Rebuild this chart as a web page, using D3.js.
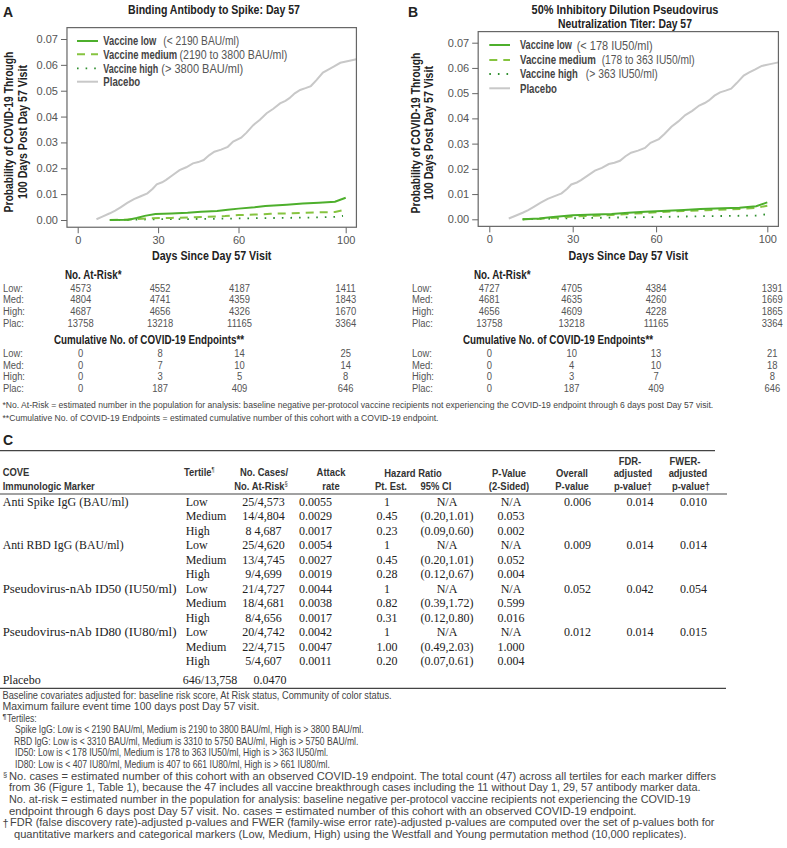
<!DOCTYPE html>
<html><head><meta charset="utf-8">
<script src="https://cdn.jsdelivr.net/npm/d3@7"></script>
<style>
body{margin:0;background:#fff;}
svg{display:block;}
</style></head><body>
<svg id="fig" width="787" height="848"></svg>
<script>
// ---------------- DATA ----------------
const xTicks = [0, 30, 60, 100];
const yTicks = [0, 0.01, 0.02, 0.03, 0.04, 0.05, 0.06, 0.07];

// Placebo cumulative incidence (same in both panels)
const placeboDays = [7, 9, 12, 14, 16, 18.5, 21, 23.5, 26, 28, 29.5, 31.5, 33, 35.5, 38, 40.5, 43, 45, 47, 49, 51, 53.5, 56, 58, 61, 63, 65.5, 68, 70.5, 73, 75.5, 77.5, 79, 81, 83, 85, 87, 89, 91.5, 93.5, 95.5, 98, 101, 104];
const placeboProb = [0.0003, 0.0012, 0.0026, 0.0036, 0.0049, 0.0066, 0.0081, 0.0092, 0.0103, 0.0121, 0.0138, 0.0146, 0.0155, 0.0174, 0.0193, 0.0204, 0.0219, 0.0224, 0.0232, 0.0250, 0.0264, 0.0272, 0.0283, 0.0303, 0.0318, 0.0338, 0.0367, 0.0388, 0.0413, 0.0430, 0.0451, 0.0461, 0.0471, 0.0490, 0.0503, 0.0510, 0.0518, 0.0540, 0.0570, 0.0582, 0.0593, 0.0608, 0.0615, 0.0622];

// Panel A: Binding antibody to spike
const spikeLowDays = [12, 19, 22, 25, 29, 35, 41, 46, 52, 56, 60, 66, 70, 78, 84, 90, 96, 100];
const spikeLowProb = [0, 0.0001, 0.0008, 0.0016, 0.0023, 0.0025, 0.0028, 0.0032, 0.0035, 0.0040, 0.0044, 0.0049, 0.0054, 0.0059, 0.0064, 0.0067, 0.0071, 0.0086];
const spikeMedDays = [12, 17, 22, 28, 35, 42, 48, 55, 60, 66, 72, 80, 88, 96, 100];
const spikeMedProb = [0, 0.0001, 0.0004, 0.0007, 0.0008, 0.0010, 0.0012, 0.0015, 0.0019, 0.0021, 0.0024, 0.0026, 0.0029, 0.0031, 0.0040];
const spikeHighDays = [12, 20, 30, 45, 60, 75, 90, 96, 99];
const spikeHighProb = [0, 0.0001, 0.0003, 0.0004, 0.0006, 0.0008, 0.0010, 0.0012, 0.0016];

// Panel B: ID50 neutralization titer
const id50LowDays = [12, 18, 22, 26, 30, 38, 44, 50, 56, 62, 70, 76, 84, 90, 96, 100];
const id50LowProb = [0, 0.0003, 0.0008, 0.0012, 0.0016, 0.0019, 0.0021, 0.0026, 0.0030, 0.0033, 0.0037, 0.0041, 0.0044, 0.0046, 0.0052, 0.0067];
const id50MedDays = [12, 18, 24, 30, 38, 44, 50, 56, 62, 70, 78, 86, 92, 96, 100];
const id50MedProb = [0, 0.0002, 0.0006, 0.0011, 0.0014, 0.0017, 0.0021, 0.0025, 0.0029, 0.0033, 0.0036, 0.0039, 0.0042, 0.0045, 0.0054];
const id50HighDays = [12, 20, 30, 45, 60, 75, 90, 96, 100];
const id50HighProb = [0, 0.0002, 0.0004, 0.0007, 0.0009, 0.0012, 0.0014, 0.0015, 0.0020];

const legendNames = ["Vaccine low", "Vaccine medium", "Vaccine high", "Placebo"];
const legendRangesA = ["(< 2190 BAU/ml)", "(2190 to 3800 BAU/ml)", "(> 3800 BAU/ml)"];
const legendRangesB = ["(< 178 IU50/ml)", "(178 to 363 IU50/ml)", "(> 363 IU50/ml)"];

const riskRows = ["Low:", "Med:", "High:", "Plac:"];
const atRiskA = [[4573, 4552, 4187, 1411], [4804, 4741, 4359, 1843], [4687, 4656, 4326, 1670], [13758, 13218, 11165, 3364]];
const eventsA = [[0, 8, 14, 25], [0, 7, 10, 14], [0, 3, 5, 8], [0, 187, 409, 646]];
const atRiskB = [[4727, 4705, 4384, 1391], [4681, 4635, 4260, 1669], [4656, 4609, 4228, 1865], [13758, 13218, 11165, 3364]];
const eventsB = [[0, 10, 13, 21], [0, 4, 10, 18], [0, 3, 7, 8], [0, 187, 409, 646]];

// Panel C table
const markers = ["Anti Spike IgG (BAU/ml)", "Anti RBD IgG (BAU/ml)", "Pseudovirus-nAb ID50 (IU50/ml)", "Pseudovirus-nAb ID80 (IU80/ml)"];
const tertiles = ["Low", "Medium", "High"];
const casesAtRisk = ["25/4,573", "14/4,804", "8 4,687", "25/4,620", "13/4,745", "9/4,699", "21/4,727", "18/4,681", "8/4,656", "20/4,742", "22/4,715", "5/4,607"];
const attackRate = ["0.0055", "0.0029", "0.0017", "0.0054", "0.0027", "0.0019", "0.0044", "0.0038", "0.0017", "0.0042", "0.0047", "0.0011"];
const hrEst = ["1", "0.45", "0.23", "1", "0.45", "0.28", "1", "0.82", "0.31", "1", "1.00", "0.20"];
const hrCI = ["N/A", "(0.20,1.01)", "(0.09,0.60)", "N/A", "(0.20,1.01)", "(0.12,0.67)", "N/A", "(0.39,1.72)", "(0.12,0.80)", "N/A", "(0.49,2.03)", "(0.07,0.61)"];
const pValue = ["N/A", "0.053", "0.002", "N/A", "0.052", "0.004", "N/A", "0.599", "0.016", "N/A", "1.000", "0.004"];
const overallP = ["0.006", "0.009", "0.052", "0.012"];
const fdrP = ["0.014", "0.014", "0.042", "0.014"];
const fwerP = ["0.010", "0.014", "0.054", "0.015"];
const placeboRow = ["Placebo", "646/13,758", "0.0470"];

// ---------------- DRAWING ----------------
const SANS = '"Liberation Sans",Arial,sans-serif';
const SERIF = '"Liberation Serif","Times New Roman",serif';
const NARROW = 0.82; // simulate the condensed face of the original

const svg = d3.select("#fig");
svg.append("rect").attr("width", 787).attr("height", 848).attr("fill", "#fff");

// text helper: condensed horizontally by a transform (fits `width` when given)
function txt(g, s, x, y, o = {}) {
  const t = g.append("text").attr("x", 0).attr("y", 0).text(s)
    .attr("font-family", o.family || SANS).attr("font-size", o.size || 11)
    .attr("fill", o.fill || "#333").attr("dominant-baseline", "central");
  if (o.weight) t.attr("font-weight", o.weight);
  if (o.anchor) t.attr("text-anchor", o.anchor);
  let k = 1;
  if (o.width) {
    k = o.width / t.node().getComputedTextLength();
  } else if (!o.family && o.condense !== false) {
    k = NARROW;
  }
  t.attr("transform", `translate(${x},${y})` + (o.rotate ? " rotate(-90)" : "") + (k !== 1 ? ` scale(${k.toFixed(4)},1)` : ""));
  return t;
}

const styles = [
  { color: "#4daf2c", width: 2, dash: null },
  { color: "#86c440", width: 2, dash: "8,6" },
  { color: "#2f8f2f", width: 1.8, dash: "1.6,7" },
  { color: "#c8c8c8", width: 2, dash: null }
];

function drawPanel(p) {
  const x = d3.scaleLinear().domain([0, 100]).range([p.x0, p.x100]);
  const y = d3.scaleLinear().domain([0, 0.07]).range([p.y0, p.y07]);
  const L = x(-4), R = x(104), T = y(0.0744), B = y(-0.0028);
  const g = svg.append("g");

  const cid = "clip" + p.id;
  svg.append("clipPath").attr("id", cid).append("rect")
    .attr("x", L).attr("y", T).attr("width", R - L).attr("height", B - T);

  const ya = g.append("g").attr("transform", `translate(${L},0)`)
    .call(d3.axisLeft(y).tickValues(yTicks).tickFormat(d3.format(".2f")).tickSize(6).tickPadding(3));
  ya.select(".domain").remove();
  ya.selectAll("line").attr("stroke", "#666");
  ya.selectAll("text").attr("font-family", SANS).attr("font-size", 11).attr("fill", "#555");

  const xa = g.append("g").attr("transform", `translate(0,${B})`)
    .call(d3.axisBottom(x).tickValues(xTicks).tickFormat(d3.format("d")).tickSize(6).tickPadding(3));
  xa.select(".domain").remove();
  xa.selectAll("line").attr("stroke", "#666");
  xa.selectAll("text").attr("font-family", SANS).attr("font-size", 11).attr("fill", "#555");

  const line = d3.line().x(d => x(d[0])).y(d => y(d[1]));
  [3, 2, 1, 0].forEach(i => {
    const s = p.series[i];
    const pts = s.t.map((t, k) => [t, s.p[k]]);
    const st = styles[i];
    g.append("path").attr("d", line(pts)).attr("fill", "none")
      .attr("stroke", st.color).attr("stroke-width", st.width)
      .attr("stroke-dasharray", st.dash).attr("clip-path", `url(#${cid})`);
  });

  g.append("rect").attr("x", L).attr("y", T).attr("width", R - L).attr("height", B - T)
    .attr("fill", "none").attr("stroke", "#666").attr("stroke-width", 1.2);

  // legend
  legendNames.forEach((nm, i) => {
    const st = styles[i];
    const ly = p.legY[i];
    g.append("line").attr("x1", p.legLine[0]).attr("x2", p.legLine[1]).attr("y1", ly).attr("y2", ly)
      .attr("stroke", st.color).attr("stroke-width", st.width).attr("stroke-dasharray", st.dash);
    txt(g, nm, p.legTextX, ly, { size: 12, weight: "bold", fill: "#444", width: p.nameW[i] });
    if (i < 3) txt(g, p.ranges[i], p.legParenX[i], ly, { size: 12.5, fill: "#555", width: p.rangeW[i] });
  });

  // titles
  txt(svg, p.letter, p.letterX, 12, { size: 14, weight: "bold", fill: "#222", condense: false });
  p.title.forEach((tl, i) => txt(svg, tl, p.titleX, p.titleY[i], { size: 13, weight: "bold", fill: "#222", anchor: "middle", width: p.titleW[i] }));
  txt(svg, "Probability of COVID-19 Through", p.ylabX[0], p.ylabCY, { size: 13, weight: "bold", fill: "#222", anchor: "middle", rotate: true, width: 161 });
  txt(svg, "100 Days Post Day 57 Visit", p.ylabX[1], p.ylabCY, { size: 13, weight: "bold", fill: "#222", anchor: "middle", rotate: true, width: 134 });
  txt(svg, "Days Since Day 57 Visit", x(50), 256, { size: 13, weight: "bold", fill: "#222", anchor: "middle" });

  // risk table
  txt(svg, "No. At-Risk*", p.rowLabX + 62, 274.3, { size: 12, weight: "bold", fill: "#222" });
  txt(svg, "Cumulative No. of COVID-19 Endpoints**", p.rowLabX + 51, 339.3, { size: 12, weight: "bold", fill: "#222" });
  const riskY = [287.3, 299, 310.7, 322.3];
  const evY = [352.7, 364.3, 376, 387.7];
  riskRows.forEach((r, i) => {
    txt(svg, r, p.rowLabX, riskY[i], { size: 11.5, fill: "#555" });
    txt(svg, r, p.rowLabX, evY[i], { size: 11.5, fill: "#555" });
    xTicks.forEach((t, k) => {
      txt(svg, p.atRisk[i][k], x(t) + p.riskShift[k], riskY[i], { size: 11.5, fill: "#555", anchor: "middle" });
      txt(svg, p.events[i][k], x(t) + p.riskShift[k], evY[i], { size: 11.5, fill: "#555", anchor: "middle" });
    });
  });
}

drawPanel({
  id: "A", x0: 77.7, x100: 345.7, y0: 220, y07: 39,
  series: [{ t: spikeLowDays, p: spikeLowProb }, { t: spikeMedDays, p: spikeMedProb }, { t: spikeHighDays, p: spikeHighProb }, { t: placeboDays, p: placeboProb }],
  legLine: [77, 98], legY: [41, 54.3, 68.3, 81.7], legTextX: 103.3,
  legParenX: [163.3, 179.5, 161.3], ranges: legendRangesA, nameW: [53, 74, 55, 37], rangeW: [76, 108, 82],
  letter: "A", letterX: 3, title: ["Binding Antibody to Spike: Day 57"], titleX: 214, titleY: [10], titleW: [172],
  ylabX: [8.5, 22.5], ylabCY: 132,
  rowLabX: 3, atRisk: atRiskA, events: eventsA, riskShift: [3, 2, 1, 0]
});
drawPanel({
  id: "B", x0: 489.3, x100: 767.3, y0: 219.3, y07: 42.7,
  series: [{ t: id50LowDays, p: id50LowProb }, { t: id50MedDays, p: id50MedProb }, { t: id50HighDays, p: id50HighProb }, { t: placeboDays, p: placeboProb }],
  legLine: [489.3, 510], legY: [45, 60, 74, 88.3], legTextX: 520,
  legParenX: [576.7, 601.7, 585.7], ranges: legendRangesB, nameW: [52, 76, 58, 37], rangeW: [76, 93, 72],
  letter: "B", letterX: 408, title: ["50% Inhibitory Dilution Pseudovirus", "Neutralization Titer: Day 57"], titleX: 625, titleY: [10, 23.3], titleW: [187, 134],
  ylabX: [415, 428.5], ylabCY: 133,
  rowLabX: 412, atRisk: atRiskB, events: eventsB, riskShift: [0, -1, 0, 5]
});

// panel footnotes
txt(svg, "*No. At-Risk = estimated number in the population for analysis: baseline negative per-protocol vaccine recipients not experiencing the COVID-19 endpoint through 6 days post Day 57 visit.", 2.5, 405, { size: 9.5, fill: "#444", width: 712 });
txt(svg, "**Cumulative No. of COVID-19 Endpoints = estimated cumulative number of this cohort with a COVID-19 endpoint.", 2.5, 417.5, { size: 9.5, fill: "#444", width: 437 });

// ---------------- PANEL C ----------------
txt(svg, "C", 3, 440, { size: 14, weight: "bold", fill: "#222", condense: false });
const rule = (y, x2, w) => svg.append("line").attr("x1", 0).attr("x2", x2).attr("y1", y).attr("y2", y).attr("stroke", "#444").attr("stroke-width", w);
rule(450.7, 715, 1.2);
rule(494, 727, 1.2);
rule(688.3, 726, 1.2);

const H = { size: 11.5, weight: "bold", fill: "#333" };
const HM = Object.assign({ anchor: "middle" }, H);
function sup(t, ch) {
  t.append("tspan").attr("font-size", 7).attr("dy", -3).attr("font-weight", "normal").text(ch);
}
txt(svg, "COVE", 2.7, 472, H);
txt(svg, "Immunologic Marker", 2.7, 486, H);
sup(txt(svg, "Tertile", 184, 472, H), "\u00b6");
txt(svg, "No. Cases/", 264, 472, HM);
sup(txt(svg, "No. At-Risk", 261, 486, HM), "\u00a7");
txt(svg, "Attack", 331, 472, HM);
txt(svg, "rate", 331, 486, HM);
txt(svg, "Hazard Ratio", 413, 473, HM);
txt(svg, "Pt. Est.", 391, 486, HM);
txt(svg, "95% CI", 436, 486, HM);
txt(svg, "P-Value", 509, 473, HM);
txt(svg, "(2-Sided)", 509, 486, HM);
txt(svg, "Overall", 572, 473, HM);
txt(svg, "P-value", 572, 486, HM);
txt(svg, "FDR-", 630, 461, HM);
txt(svg, "adjusted", 633, 473, HM);
txt(svg, "p-value\u2020", 633, 486, HM);
txt(svg, "FWER-", 685, 461, HM);
txt(svg, "adjusted", 688, 473, HM);
txt(svg, "p-value\u2020", 691, 486, HM);

const rowY = d3.scaleLinear().domain([0, 11]).range([502, 661]);
const S = { family: SERIF, size: 12, fill: "#222" };
const SM = Object.assign({ anchor: "middle" }, S);
const markerW = [126, 121, 174, 174];
markers.forEach((m, i) => {
  txt(svg, m, 2.7, rowY(i * 3), Object.assign({ width: markerW[i] }, S));
  txt(svg, overallP[i], 577.5, rowY(i * 3), SM);
  txt(svg, fdrP[i], 640, rowY(i * 3), SM);
  txt(svg, fwerP[i], 693.5, rowY(i * 3), SM);
});
casesAtRisk.forEach((c, r) => {
  const yy = rowY(r);
  txt(svg, tertiles[r % 3], 185.7, yy, S);
  txt(svg, c, 263.5, yy, SM);
  txt(svg, attackRate[r], 315.5, yy, SM);
  txt(svg, hrEst[r], 387, yy, SM);
  txt(svg, hrCI[r], 447, yy, SM);
  txt(svg, pValue[r], 511, yy, SM);
});
txt(svg, placeboRow[0], 2.7, 680, S);
txt(svg, placeboRow[1], 210, 680, SM);
txt(svg, placeboRow[2], 270, 680, SM);

// table footnotes
const fnC = [
  ["Baseline covariates adjusted for: baseline risk score, At Risk status, Community of color status.", 2.5, 695, 390],
  ["Maximum failure event time 100 days post Day 57 visit.", 2.5, 706.5, 257],
  ["Spike IgG: Low is < 2190 BAU/ml, Medium is 2190 to 3800 BAU/ml, High is > 3800 BAU/ml.", 15, 730, 349],
  ["RBD IgG: Low is < 3310 BAU/ml, Medium is 3310 to 5750 BAU/ml, High is > 5750 BAU/ml.", 14, 741.5, 345],
  ["ID50: Low is < 178 IU50/ml, Medium is 178 to 363 IU50/ml, High is > 363 IU50/ml.", 15, 753, 314],
  ["ID80: Low is < 407 IU80/ml, Medium is 407 to 661 IU80/ml, High is > 661 IU80/ml.", 15, 765, 315],
  ["No. cases = estimated number of this cohort with an observed COVID-19 endpoint. The total count (47) across all tertiles for each marker differs", 9, 776.5, 708],
  ["from 36 (Figure 1, Table 1), because the 47 includes all vaccine breakthrough cases including the 11 without Day 1, 29, 57 antibody marker data.", 9, 788, 693],
  ["No. at-risk = estimated number in the population for analysis: baseline negative per-protocol vaccine recipients not experiencing the COVID-19", 9, 799.5, 683],
  ["endpoint through 6 days post Day 57 visit.  No. cases = estimated number of this cohort with an observed COVID-19 endpoint.", 9, 811, 628],
  ["FDR (false discovery rate)-adjusted p-values and FWER (family-wise error rate)-adjusted p-values are computed over the set of p-values both for", 10, 822.5, 705],
  ["quantitative markers and categorical markers (Low, Medium, High) using the Westfall and Young permutation method (10,000 replicates).", 14, 834, 673]
];
fnC.forEach(f => txt(svg, f[0], f[1], f[2], { size: 10, fill: "#444", width: f[3] }));
txt(svg, "\u00b6", 2.5, 716, { size: 7.5, fill: "#444", condense: false });
txt(svg, "Tertiles:", 7, 718, { size: 10.5, fill: "#444" });
txt(svg, "\u00a7", 3, 774.5, { size: 7.5, fill: "#444", condense: false });
txt(svg, "\u2020", 2.5, 822.5, { size: 11, fill: "#444", condense: false });
</script>
</body></html>
